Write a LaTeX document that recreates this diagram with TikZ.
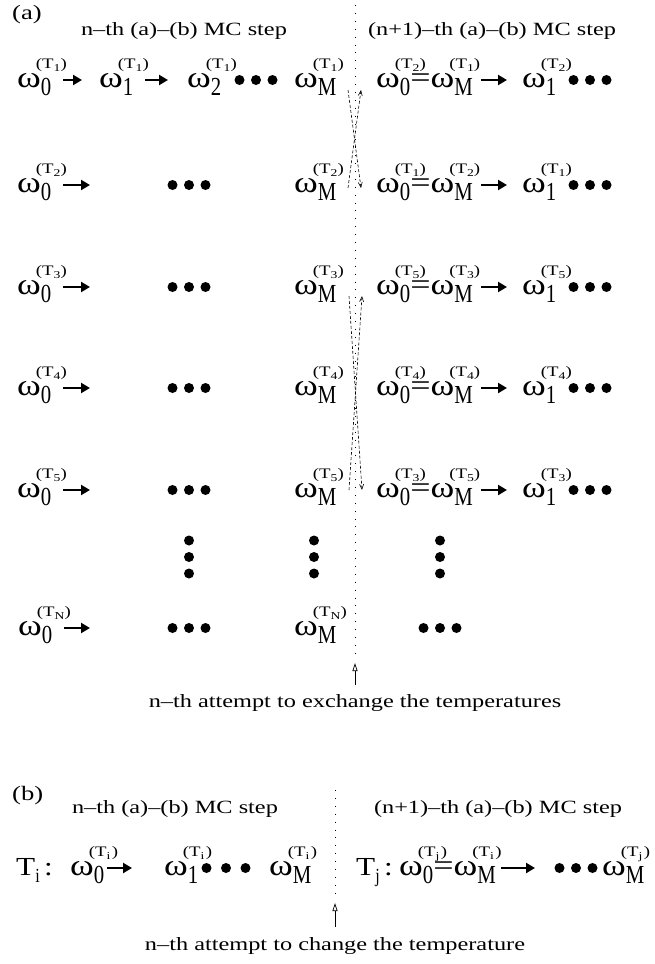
\documentclass[tikz,border=0pt]{standalone}
\usepackage{fontspec}
\setmainfont{Liberation Serif}[FakeStretch=1.3]
\newfontfamily\omfam{Liberation Serif}[FakeStretch=1.2]
\newfontfamily\subfam{Liberation Serif}[FakeStretch=0.8]
\usetikzlibrary{arrows.meta}

% font sizes
\newcommand{\fCap}{\fontsize{18.7}{20}\selectfont}
\newcommand{\fLab}{\fontsize{20.5}{22}\selectfont}
\newcommand{\fOm}{\omfam\fontsize{30}{32}\selectfont}
\newcommand{\fT}{\omfam\fontsize{26}{28}\selectfont}
\newcommand{\fSub}{\subfam\fontsize{26}{28}\selectfont}
\newcommand{\fSubS}{\subfam\fontsize{20}{22}\selectfont}
\newcommand{\fSup}{\fontsize{14.5}{16}\selectfont}
\newcommand{\fSupSub}{\fontsize{10.5}{12}\selectfont}

% omega with subscript #1 and superscript (T_#2)
\newcommand{\tsup}[1]{\raisebox{19pt}{\fSup(T\raisebox{-3pt}{\fSupSub #1})}}
\newcommand{\om}[2]{{\fOm ω}\rlap{\kern-5pt\tsup{#2}}\raisebox{-8pt}{\fSub #1}}
\newcommand{\eq}{{\fOm =}}

\tikzset{
  omnode/.style={inner sep=0pt, anchor=base west, text height=14pt, text depth=0pt},
  headtxt/.style={inner sep=0pt, anchor=base, font=\fCap},
  lbl/.style={inner sep=0pt, anchor=base west, font=\fLab},
  fwd/.style={line width=2.5pt, -{Triangle[length=9pt,width=10pt]}},
  divider/.style={line width=0.8pt, dash pattern=on 0.9pt off 7pt},
  xchg/.style={line width=0.6pt, dash pattern=on 3pt off 2pt, -{Straight Barb[length=5pt,width=4pt]}},
  uparrow/.style={line width=0.7pt, -{Triangle[open,length=8pt,width=5pt]}},
  pics/dotrow/.style={code={\foreach \k in {-1,0,1} \fill (\k*#1,0) circle (5);}},
  pics/dotrow/.default=16.5,
  pics/dotcol/.style={code={\foreach \k in {-1,0,1} \fill (0,\k*16.5) circle (5);}}
}

\begin{document}
\begin{tikzpicture}[x=1pt, y=-1pt]
  \useasboundingbox (0,0) rectangle (654,964);

  % ---------------- (a) ----------------
  \node[lbl] (la) at (12,19) {(a)};
  \node[headtxt] (hl) at (184,35) {n--th (a)--(b) MC step};
  \node[headtxt] (hr) at (492,35) {(n+1)--th (a)--(b) MC step};

  % first row, left
  \node[omnode] (a10) at (17,87) {\om{0}{1}};
  \node[omnode] (a11) at (99,87) {\om{1}{1}};
  \node[omnode] (a12) at (187,87) {\om{2}{1}};
  \pic at (256,80) {dotrow};
  \node[omnode] (aM1) at (294,87) {\om{M}{1}};
  \draw[fwd, shorten <=12pt, shorten >=17pt] (a10.east) -- (a11.west);
  \draw[fwd, shorten <=12pt, shorten >=19pt] (a11.east) -- (a12.west);

  % first row, right
  \node[omnode] (b10) at (376,87) {\om{0}{2}\eq\om{M}{1}};
  \node[omnode] (b11) at (522,87) {\om{1}{2}};
  \pic at (590,80) {dotrow};
  \draw[fwd, shorten <=8pt, shorten >=15pt] (b10.east) -- (b11.west);

  % rows 2--5
  \foreach \r/\y/\p in {2/192/1, 3/294/5, 4/395/4, 5/497/3} {
    \node[omnode] (a\r0) at (17,\y) {\om{0}{\r}};
    \coordinate (e\r) at (90,\y-7);
    \draw[fwd, shorten <=12pt] (a\r0.east) -- (e\r);
    \pic at (189,\y-7) {dotrow};
    \node[omnode] (aM\r) at (294,\y) {\om{M}{\r}};
    \node[omnode] (b\r0) at (376,\y) {\om{0}{\p}\eq\om{M}{\r}};
    \node[omnode] (b\r1) at (522,\y) {\om{1}{\p}};
    \draw[fwd, shorten <=8pt, shorten >=15pt] (b\r0.east) -- (b\r1.west);
    \pic at (590,\y-7) {dotrow};
  }

  % vertical dots
  \foreach \x in {189,314,440} \pic at (\x,557) {dotcol};

  % last row
  \node[omnode] (aN0) at (18,635) {\om{0}{N}};
  \coordinate (eN) at (90,628);
  \draw[fwd, shorten <=12pt] (aN0.east) -- (eN);
  \pic at (189,628) {dotrow};
  \node[omnode] (aMN) at (294,635) {\om{M}{N}};
  \pic at (440,628) {dotrow};

  % exchange of configurations
  \coordinate (x1a) at (348,90);  \coordinate (x1b) at (361,188);
  \coordinate (x1c) at (348,188); \coordinate (x1d) at (361,90);
  \draw[xchg] (x1a) -- (x1b);
  \draw[xchg] (x1c) -- (x1d);
  \coordinate (x2a) at (349,296); \coordinate (x2b) at (362,490);
  \coordinate (x2c) at (349,490); \coordinate (x2d) at (362,296);
  \draw[xchg] (x2a) -- (x2b);
  \draw[xchg] (x2c) -- (x2d);

  % dotted separator and caption
  \coordinate (sa) at (355,5);
  \coordinate (sb) at (355,655);
  \draw[divider] (sa) -- (sb);
  \node[headtxt] (xa) at (355,707) {n--th attempt to exchange the temperatures};
  \coordinate (tipa) at (355,663);
  \draw[uparrow, shorten <=9pt] (xa.north) -- (tipa);

  % ---------------- (b) ----------------
  \node[lbl] (lb) at (12,800) {(b)};
  \node[headtxt] (hbl) at (175,813) {n--th (a)--(b) MC step};
  \node[headtxt] (hbr) at (498,813) {(n+1)--th (a)--(b) MC step};

  % temperature T_i
  \node[omnode] (ti) at (16,875) {{\fT T}\raisebox{-7pt}{\fSubS i}{\fT\,:}};
  \node[omnode] (c0) at (70,875) {\om{0}{i\kern1.5pt}};
  \node[omnode] (c1) at (164,875) {\om{1}{i\kern1.5pt}};
  \draw[fwd, shorten <=3pt, shorten >=32pt] (c0.east) -- (c1.west);
  \pic at (226,868) {dotrow=19.5};
  \node[omnode] (cM) at (269,875) {\om{M}{i\kern1.5pt}};

  % temperature T_j
  \node[omnode] (tj) at (356,875) {{\fT T}\raisebox{-7pt}{\fSubS j}{\fT\,:}};
  \node[omnode] (d0) at (399,875) {\om{0}{j\kern1.5pt}\eq\om{M}{i\kern1.5pt}};
  \coordinate (ed) at (535,868);
  \draw[fwd, shorten <=5pt] (d0.east) -- (ed);
  \pic at (576,868) {dotrow};
  \node[omnode] (dM) at (602,875) {\om{M}{j\kern1.5pt}};

  % dotted separator and caption
  \coordinate (sc) at (335,790);
  \coordinate (sd) at (335,895);
  \draw[divider] (sc) -- (sd);
  \node[headtxt] (xb) at (335,950) {n--th attempt to change the temperature};
  \coordinate (tipb) at (335,903);
  \draw[uparrow, shorten <=10pt] (xb.north) -- (tipb);
\end{tikzpicture}
\end{document}
